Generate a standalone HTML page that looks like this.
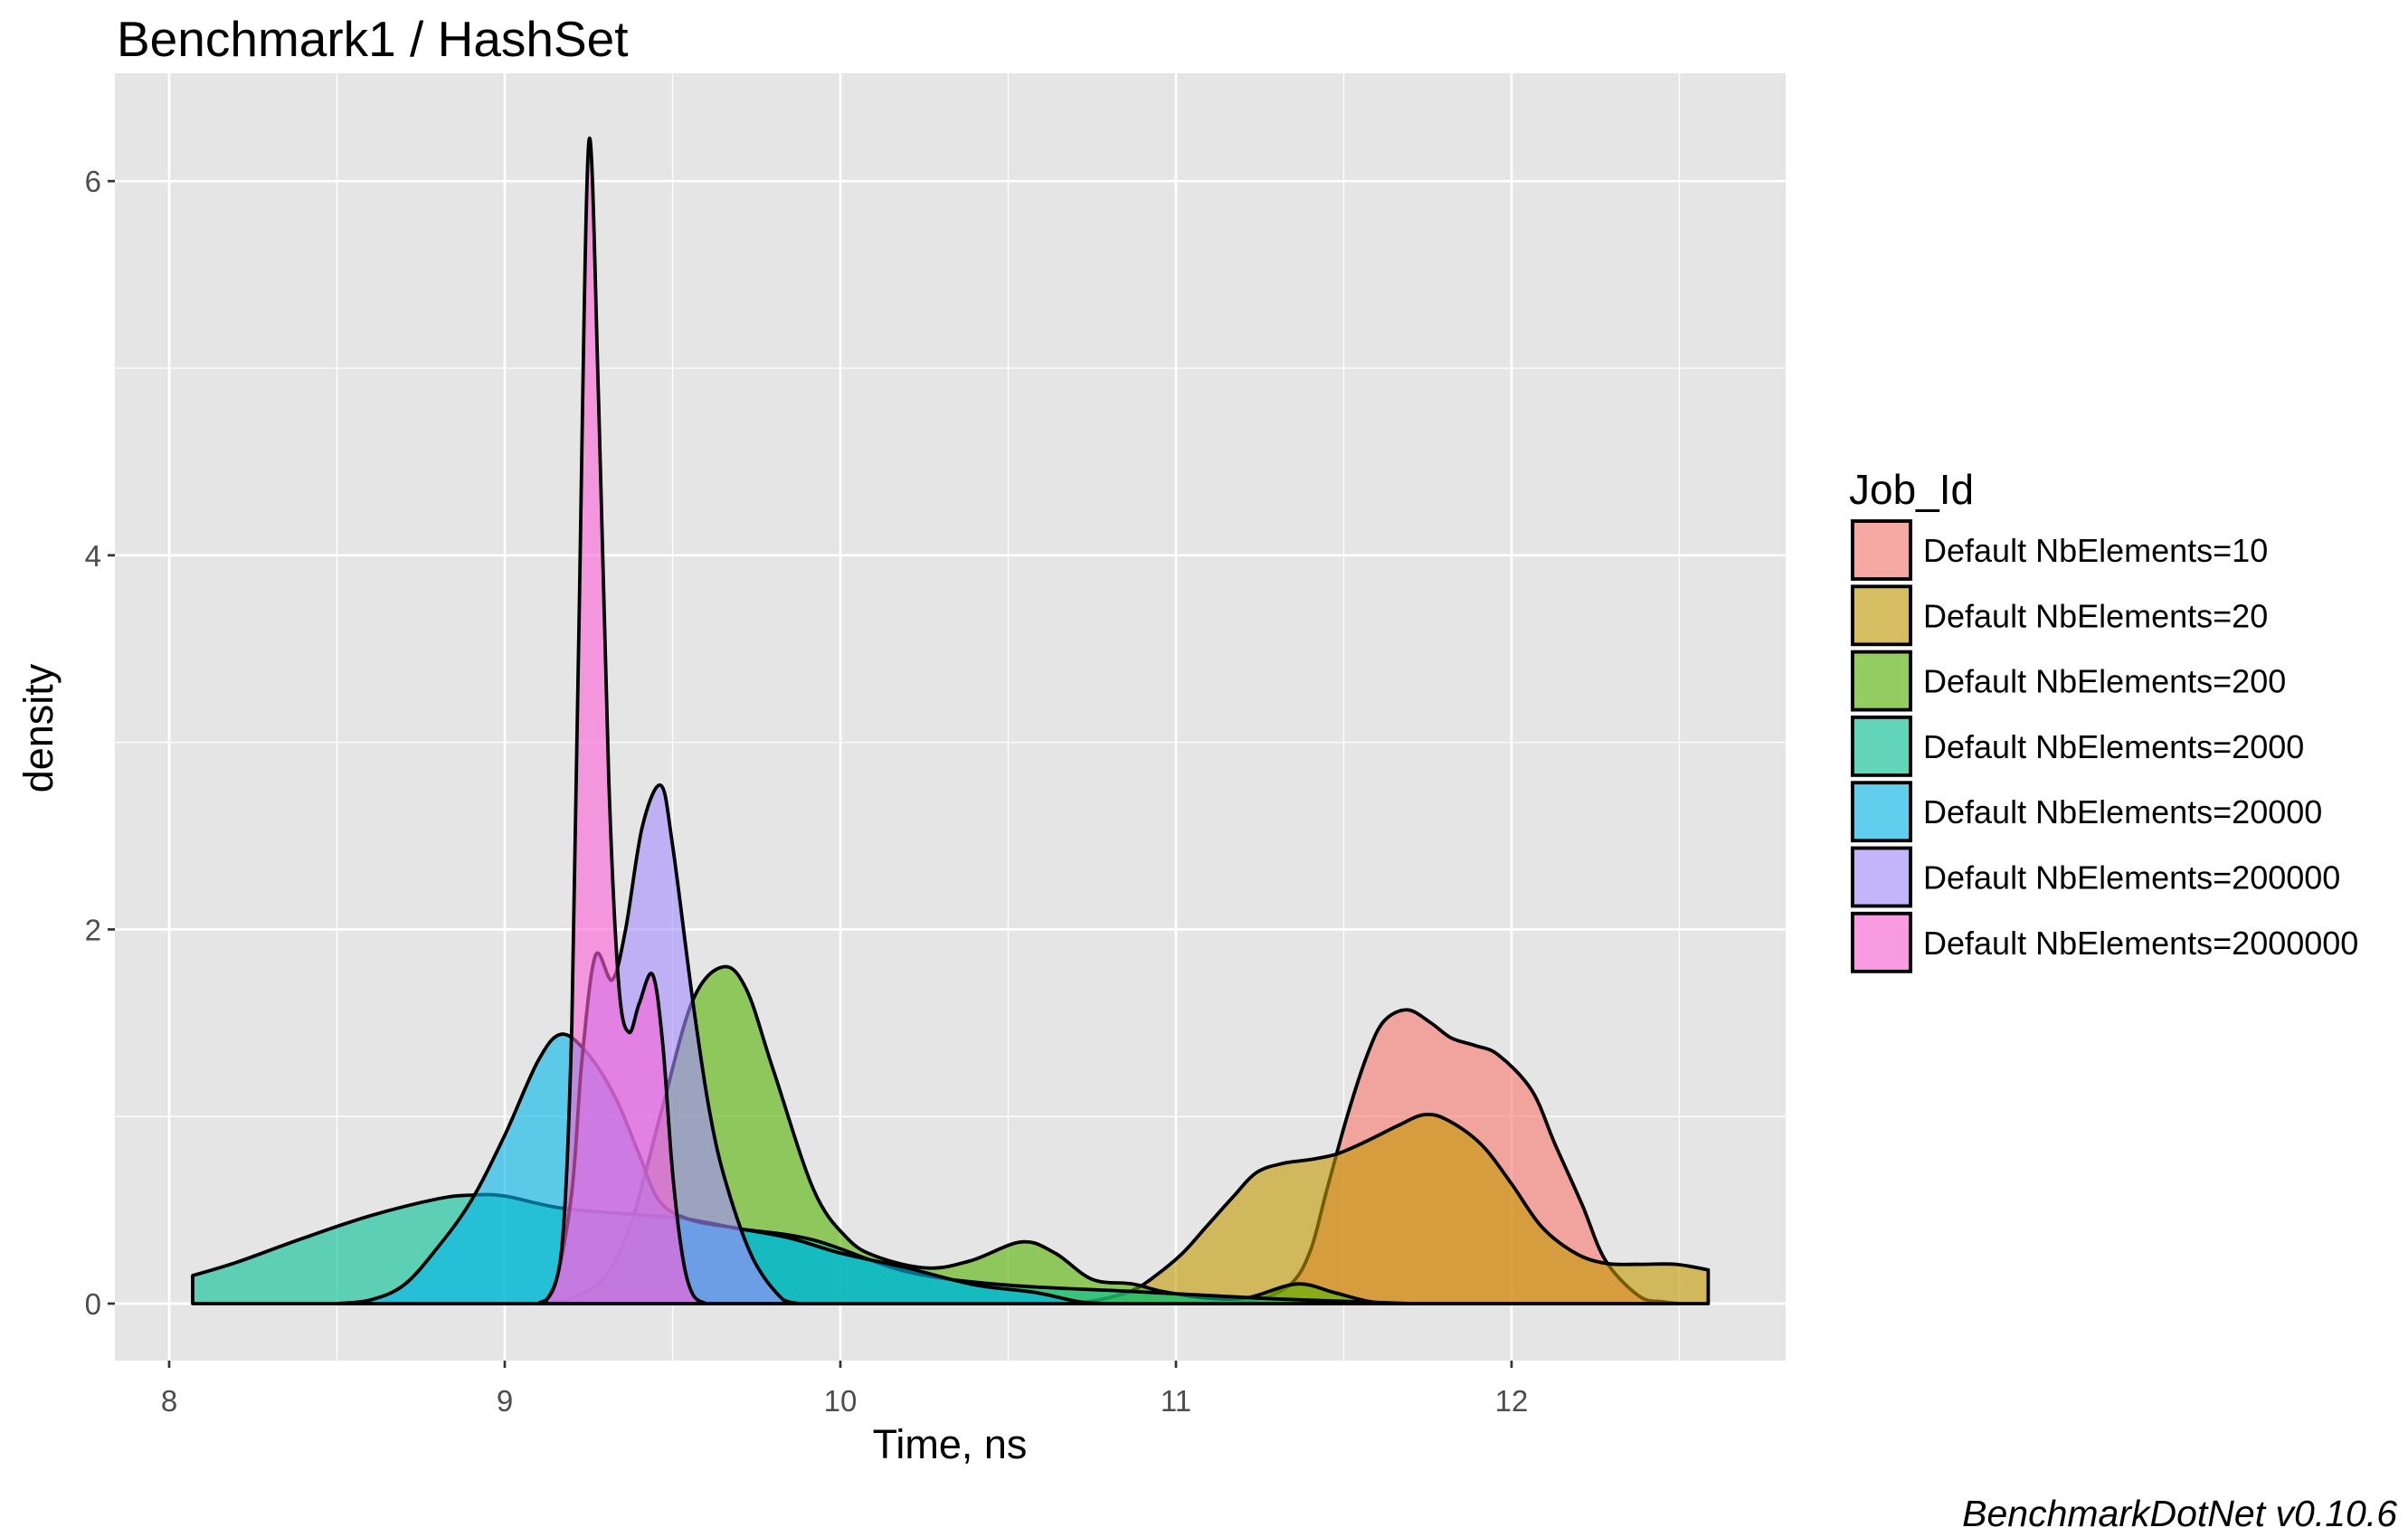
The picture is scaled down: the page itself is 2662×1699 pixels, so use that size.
<!DOCTYPE html>
<html><head><meta charset="utf-8"><style>
html,body{margin:0;padding:0;background:#fff;}
svg{display:block;font-family:"Liberation Sans",Arial,sans-serif;}
</style></head><body>
<svg id="chart" width="2662" height="1699" viewBox="0 0 2662 1699" xmlns="http://www.w3.org/2000/svg">
<rect x="127" y="81" width="1847" height="1423" fill="#e5e5e5"/>
<g id="grid"></g>
<g id="series"></g>
<g id="axes"></g>
<text x="129" y="62" font-size="55" fill="#000">Benchmark1 / HashSet</text>
<text x="1050" y="1612" font-size="45" text-anchor="middle" fill="#000">Time, ns</text>
<text x="0" y="0" font-size="45" text-anchor="middle" fill="#000" transform="translate(58,805) rotate(-90)">density</text>
<text x="2650" y="1687" font-size="41" font-style="italic" text-anchor="end" fill="#000">BenchmarkDotNet v0.10.6</text>
<g id="legend">
<text x="2044" y="557" font-size="46" fill="#000">Job_Id</text>
</g>
</svg>
<script>
const labels = ["Default NbElements=10","Default NbElements=20","Default NbElements=200","Default NbElements=2000","Default NbElements=20000","Default NbElements=200000","Default NbElements=2000000"];
const colors = ["#F8766D","#C49A00","#53B400","#00C094","#00B6EB","#A58AFF","#FB61D7"];
const xTicks = [8,9,10,11,12];
const yTicks = [0,2,4,6];
// series: x values and density values
const x10 = [11.15,11.24,11.34,11.40,11.45,11.51,11.57,11.62,11.69,11.76,11.82,11.89,11.96,12.06,12.13,12.21,12.28,12.38,12.45,12.5];
const d10 = [0,0.02,0.1,0.28,0.61,1.0,1.33,1.51,1.57,1.5,1.42,1.38,1.33,1.14,0.85,0.53,0.23,0.04,0.01,0];
const x20 = [10.68,10.77,10.87,10.94,11.02,11.09,11.17,11.24,11.32,11.40,11.48,11.57,11.66,11.74,11.81,11.91,12.0,12.09,12.19,12.28,12.38,12.49,12.586];
const d20 = [0,0.02,0.07,0.15,0.27,0.41,0.57,0.70,0.75,0.77,0.80,0.87,0.95,1.01,0.98,0.85,0.64,0.41,0.27,0.215,0.21,0.21,0.18];
const x200 = [9.1,9.2,9.3,9.38,9.47,9.56,9.65,9.72,9.8,9.92,10.02,10.11,10.26,10.39,10.54,10.64,10.75,10.87,10.96,11.09,11.21,11.36,11.47,11.58,11.68];
const d200 = [0,0.03,0.15,0.45,1.05,1.62,1.80,1.68,1.25,0.61,0.35,0.25,0.19,0.23,0.33,0.27,0.13,0.105,0.065,0.03,0.03,0.105,0.06,0.01,0];
const x2000 = [8.07,8.2,8.4,8.6,8.8,8.9,9.0,9.17,9.43,9.55,9.7,9.92,10.2,10.49,10.87,11.24,11.53,11.7];
const d2000 = [0.15,0.22,0.35,0.47,0.56,0.58,0.575,0.51,0.47,0.45,0.40,0.34,0.17,0.10,0.065,0.03,0.01,0];
const x20000 = [8.5,8.6,8.7,8.8,8.9,9.0,9.1,9.17,9.25,9.33,9.4,9.46,9.55,9.7,9.85,10.0,10.2,10.4,10.58,10.71,10.8];
const d20000 = [0,0.02,0.1,0.3,0.55,0.9,1.3,1.44,1.33,1.1,0.8,0.55,0.45,0.40,0.35,0.27,0.19,0.1,0.06,0.01,0];
const x200000 = [9.1,9.15,9.2,9.23,9.27,9.32,9.36,9.41,9.465,9.5,9.56,9.61,9.66,9.74,9.83,9.88];
const d200000 = [0,0.1,0.6,1.3,1.86,1.73,2.0,2.55,2.77,2.45,1.62,1.03,0.64,0.24,0.02,0];
const x2000000 = [9.12,9.17,9.2,9.22,9.25,9.28,9.31,9.34,9.37,9.40,9.44,9.47,9.5,9.53,9.56,9.6];
const d2000000 = [0,0.3,1.5,3.5,6.2,4.8,2.8,1.7,1.45,1.6,1.76,1.4,0.7,0.25,0.05,0];
const seriesX = [x10,x20,x200,x2000,x20000,x200000,x2000000];
const seriesD = [d10,d20,d200,d2000,d20000,d200000,d2000000];

const NS = "http://www.w3.org/2000/svg";
const PX0 = 127, PX1 = 1974, PY0 = 81, PY1 = 1504;
function sx(v){ return 187 + (v - 8) * 371; }
function sy(v){ return 1441 - v * 206.8; }
function mk(tag, attrs, parent){ const e = document.createElementNS(NS, tag); for (const k in attrs) e.setAttribute(k, attrs[k]); parent.appendChild(e); return e; }

const grid = document.getElementById('grid');
for (let v = 8.5; v <= 12.5; v += 1) {
  const l = mk('line', {x1:sx(v), x2:sx(v), y1:PY0, y2:PY1, stroke:'#fff', 'stroke-width':1.3}, grid);
  
  
}
for (let v = 1; v <= 5; v += 2) {
  const l = mk('line', {x1:PX0, x2:PX1, y1:sy(v), y2:sy(v), stroke:'#fff', 'stroke-width':1.3}, grid);
  
  
}
xTicks.forEach(v => {
  const l = mk('line', {x1:sx(v), x2:sx(v), y1:PY0, y2:PY1, stroke:'#fff', 'stroke-width':2.7}, grid);
  
  
});
yTicks.forEach(v => {
  const l = mk('line', {x1:PX0, x2:PX1, y1:sy(v), y2:sy(v), stroke:'#fff', 'stroke-width':2.7}, grid);
  
  
});

function smoothPath(pts){
  let d = 'M' + pts[0][0].toFixed(1) + ',' + pts[0][1].toFixed(1);
  for (let i = 0; i < pts.length - 1; i++) {
    const p0 = pts[Math.max(0, i-1)], p1 = pts[i], p2 = pts[i+1], p3 = pts[Math.min(pts.length-1, i+2)];
    const t = 0.5/3;
    let c1y = p1[1] + (p2[1]-p0[1])*t, c2y = p2[1] - (p3[1]-p1[1])*t;
    c1y = Math.min(c1y, sy(0)); c2y = Math.min(c2y, sy(0));
    d += ' C' + (p1[0]+(p2[0]-p0[0])*t).toFixed(1) + ',' + c1y.toFixed(1) + ' ' + (p2[0]-(p3[0]-p1[0])*t).toFixed(1) + ',' + c2y.toFixed(1) + ' ' + p2[0].toFixed(1) + ',' + p2[1].toFixed(1);
  }
  return d;
}
const sg = document.getElementById('series');
seriesX.forEach((xs, i) => {
  const ds = seriesD[i];
  const pts = xs.map((x, j) => [sx(x), sy(ds[j])]);
  let d = smoothPath(pts);
  d += ' L' + sx(xs[xs.length-1]).toFixed(1) + ',' + sy(0) + ' L' + sx(xs[0]).toFixed(1) + ',' + sy(0) + ' Z';
  const p = mk('path', {d:d, fill:colors[i], 'fill-opacity':0.6, stroke:'#000', 'stroke-width':3.8, 'stroke-linejoin':'round'}, sg);
  
  
});

const ax = document.getElementById('axes');
xTicks.forEach(v => {
  const t = mk('line', {x1:sx(v), x2:sx(v), y1:PY1, y2:PY1+8, stroke:'#333', 'stroke-width':2.7}, ax);
  
  
  const tx = mk('text', {x:sx(v), y:1560, 'font-size':33, 'text-anchor':'middle', fill:'#4d4d4d'}, ax);
  tx.textContent = v;
  
  
});
yTicks.forEach(v => {
  const t = mk('line', {x1:PX0-8, x2:PX0, y1:sy(v), y2:sy(v), stroke:'#333', 'stroke-width':2.7}, ax);
  
  
  const tx = mk('text', {x:112, y:sy(v)+12, 'font-size':33, 'text-anchor':'end', fill:'#4d4d4d'}, ax);
  tx.textContent = v;
  
  
});

const lg = document.getElementById('legend');
labels.forEach((lab, i) => {
  const y = 573 + i * 72.3;
  const g = mk('g', {}, lg);
  
  
  mk('rect', {x:2045, y:y, width:70, height:70, fill:'#f2f2f2'}, g);
  const r = mk('rect', {x:2048, y:y+3, width:64, height:64, fill:colors[i], 'fill-opacity':0.6, stroke:'#000', 'stroke-width':3.8}, g);
  
  
  const t = mk('text', {x:2126, y:y+48, 'font-size':36, fill:'#000'}, g);
  t.textContent = lab;
  
  
});
</script>
</body></html>
